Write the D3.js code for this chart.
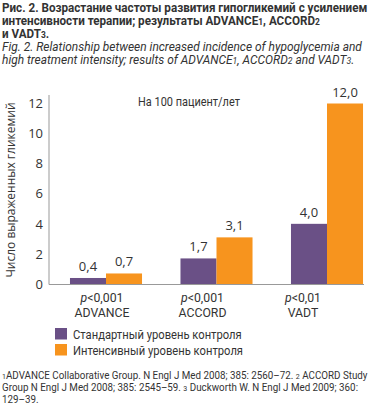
<!DOCTYPE html>
<html><head><meta charset="utf-8">
<script src="https://cdn.jsdelivr.net/npm/d3@7"></script>
<style>body{margin:0;background:#fff}svg{display:block}</style>
</head><body>
<script>
const categories = ["ADVANCE", "ACCORD", "VADT"];
const pLabels = ["p<0,001", "p<0,001", "p<0,01"];
const seriesNames = ["Стандартный уровень контроля", "Интенсивный уровень контроля"];
const standardValues = [0.4, 1.7, 4.0];
const intensiveValues = [0.7, 3.1, 12.0];
const yTicks = [0, 2, 4, 6, 8, 10, 12];
const colors = ["#6a5086", "#f7941e"];
// each line: array of [text, isSup]
const titleLines = [
  [["Рис. 2. Возрастание частоты развития гипогликемий с усилением", 0]],
  [["интенсивности терапии; результаты ADVANCE", 0], ["1", 1], [", ACCORD", 0], ["2", 1]],
  [["и VADT", 0], ["3", 1], [".", 0]]
];
const titleEnLines = [
  [["Fig. 2. Relationship between increased incidence of hypoglycemia and", 0]],
  [["high treatment intensity; results of ADVANCE", 0], ["1", 1], [", ACCORD", 0], ["2", 1], [" and VADT", 0], ["3", 1], [".", 0]]
];
const footLines = [
  [["1", 1], ["ADVANCE Collaborative Group. N Engl J Med 2008; 385: 2560–72. ", 0], ["2", 1], [" ACCORD Study", 0]],
  [["Group N Engl J Med 2008; 385: 2545–59. ", 0], ["3", 1], [" Duckworth W. N Engl J Med 2009; 360:", 0]],
  [["129–39.", 0]]
];

const W = 369, H = 407;
const font = "'Open Sans', 'Noto Sans', sans-serif";
const narrow = "Roboto, 'Liberation Sans', sans-serif";
const txt = "#333";
const svg = d3.select("body").append("svg").attr("width", W).attr("height", H)
  .style("font-family", font);

function block(lines, opts) {
  const g = svg.append("g");
  const texts = lines.map((parts, i) => {
    const t = g.append("text").attr("x", 0).attr("y", opts.y0 + i * opts.lh)
      .attr("font-family", narrow).attr("font-size", opts.fs)
      .attr("font-weight", opts.bold ? "bold" : "normal")
      .attr("font-style", opts.italic ? "italic" : "normal").attr("fill", "#333");
    parts.forEach(([s, sup]) => {
      const sp = t.append("tspan").text(s);
      if (sup) sp.attr("font-size", opts.fs * 0.72);
    });
    return t;
  });
  const w0 = texts[0].node().getComputedTextLength();
  const sx = opts.w / w0;
  g.attr("transform", `translate(2,0) scale(${sx},1)`);
  return g;
}

// Place a text at (x,y) with given anchor, horizontally scaled by sx
function scaledText(x, y, anchor, sx) {
  return svg.append("g").attr("transform", `translate(${x},${y}) scale(${sx},1)`)
    .append("text").attr("x", 0).attr("y", 0).attr("text-anchor", anchor)
    .attr("fill", txt).attr("font-family", narrow);
}

block(titleLines, {y0: 12, lh: 13, fs: 12.5, bold: true, w: 366});
block(titleEnLines, {y0: 51, lh: 13, fs: 12, italic: true, w: 360});
block(footLines, {y0: 379, lh: 12, fs: 10, w: 366});

// Scales
const y = d3.scaleLinear().domain([0, 12]).range([284, 103.5]);
const x0 = d3.scaleBand().domain(categories).range([50.75, 382.25])
  .paddingInner(0.348).paddingOuter(0.174);
const x1 = d3.scaleBand().domain([0, 1]).range([0, x0.bandwidth()]);
const xLab = d3.scalePoint().domain(categories).range([102, 303]);

// Y axis
const yAxis = d3.axisLeft(y).tickValues(yTicks).tickSize(0).tickPadding(6)
  .tickFormat(d3.format("d"));
const gy = svg.append("g").attr("transform", "translate(49,0)").call(yAxis);
gy.select(".domain").remove();
gy.selectAll("text").attr("font-size", 13).attr("fill", txt).attr("font-family", font);
svg.append("line").attr("x1", 49).attr("x2", 49).attr("y1", 95).attr("y2", 284.5)
  .attr("stroke", "#999").attr("stroke-width", 1);

svg.append("text").attr("transform", "translate(15,190) rotate(-90)")
  .attr("text-anchor", "middle").attr("font-size", 12).attr("fill", txt)
  .text("Число выраженных гликемий");

// Bars
const data = categories.map((c, i) => ({c, vals: [standardValues[i], intensiveValues[i]]}));
const groups = svg.selectAll("g.grp").data(data).join("g").attr("class", "grp")
  .attr("transform", d => `translate(${x0(d.c)},0)`);
groups.selectAll("rect").data(d => d.vals.map((v, k) => ({v, k}))).join("rect")
  .attr("x", d => x1(d.k)).attr("width", x1.bandwidth())
  .attr("y", d => y(d.v)).attr("height", d => y(0) - y(d.v))
  .attr("fill", d => colors[d.k]);
groups.selectAll("text.val").data(d => d.vals.map((v, k) => ({v, k}))).join("text")
  .attr("class", "val")
  .attr("x", d => x1(d.k) + x1.bandwidth() / 2).attr("y", d => y(d.v) - 7)
  .attr("text-anchor", "middle").attr("font-size", 13).attr("fill", txt)
  .text(d => d3.format(".1f")(d.v).replace(".", ","));

// Baseline
svg.append("line").attr("x1", 49).attr("x2", 364).attr("y1", 284.5).attr("y2", 284.5)
  .attr("stroke", "#999").attr("stroke-width", 1.2);

// Annotation
{
  const t = scaledText(189, 106, "middle", 1).attr("font-size", 12).text("На 100 пациент/лет");
  const w = t.node().getComputedTextLength();
  t.node().parentNode.setAttribute("transform", `translate(189,106) scale(${102 / w},1)`);
}

// X labels
{
  const probe = svg.append("text").attr("font-family", narrow).attr("font-size", 12.5).text(categories[0]);
  const sx = 55 / probe.node().getComputedTextLength();
  probe.remove();
  categories.forEach((c, i) => {
    const cx = xLab(c);
    const t = scaledText(cx, 302, "middle", sx).attr("font-size", 12.5);
    t.append("tspan").attr("font-style", "italic").text("p");
    t.append("tspan").text(pLabels[i].slice(1));
    scaledText(cx, 317, "middle", sx).attr("font-size", 12.5).text(c);
  });
}

// Legend
{
  const probe = svg.append("text").attr("font-family", narrow).attr("font-size", 12.5).text(seriesNames[0]);
  const sx = 169 / probe.node().getComputedTextLength();
  probe.remove();
  seriesNames.forEach((s, i) => {
    const ly = 328 + i * 16;
    svg.append("rect").attr("x", 55).attr("y", ly).attr("width", 12).attr("height", 11.5)
      .attr("fill", colors[i]);
    scaledText(73, ly + 10.5, "start", sx).attr("font-size", 12.5).text(s);
  });
}
</script>
</body></html>
